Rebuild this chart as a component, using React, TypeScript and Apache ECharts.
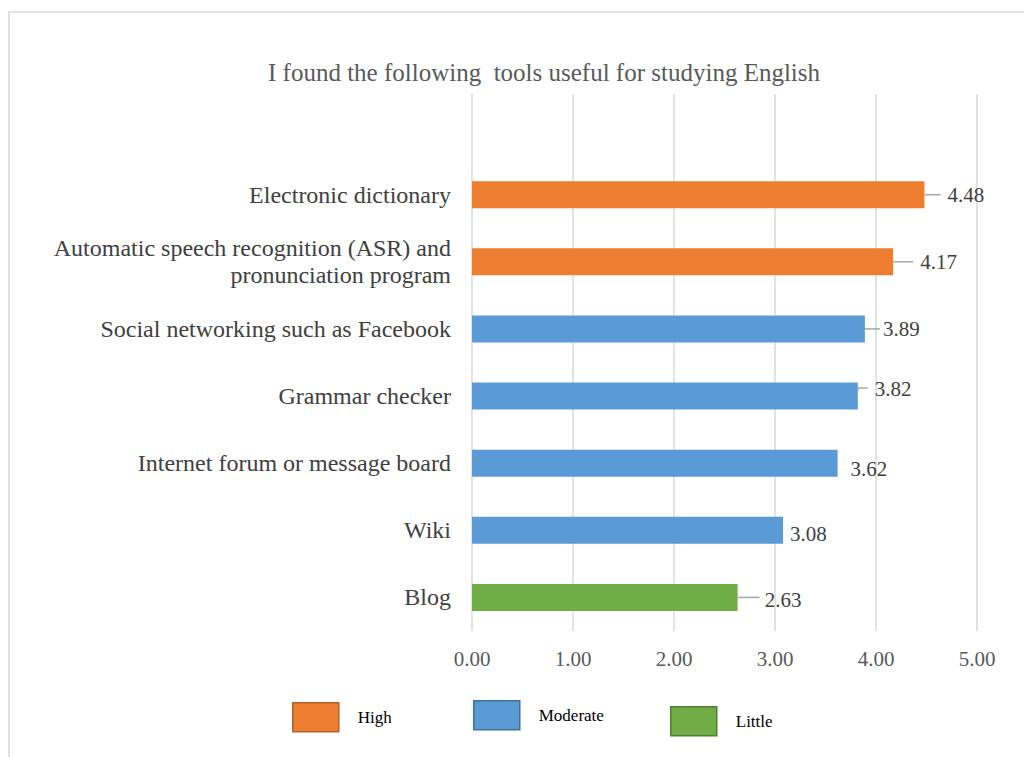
import React, { useEffect, useRef } from "react";
import * as echarts from "echarts";

const categories = [
  "",
  "Electronic dictionary",
  "Automatic speech recognition (ASR) and\npronunciation program",
  "Social networking such as Facebook",
  "Grammar checker",
  "Internet forum or message board",
  "Wiki",
  "Blog",
];
const means: (number | null)[] = [null, 4.48, 4.17, 3.89, 3.82, 3.62, 3.08, 2.63];
const levels = ["", "High", "High", "Moderate", "Moderate", "Moderate", "Moderate", "Little"];
const levelNames = ["High", "Moderate", "Little"];
const xTicks = [0, 1, 2, 3, 4, 5];

// layout-only tweaks (label placement, leader lines)
const labelGap = [0, 23, 27, 18, 17, 13, 7, 27];
const labelDy = [0, 0, 0, 0, -7, 6, 4, 3];
const leaderLen = [0, 16, 20, 15, 10, 0, 0, 22];
const leaderDy = [0, 0, 0, 0, -8, 0, 0, 0];

const colors: Record<string, string> = { High: "#ED7D31", Moderate: "#5B9BD5", Little: "#70AD47" };
const borders: Record<string, string> = { High: "#B5612A", Moderate: "#41719C", Little: "#507E32" };
const legendPos: Record<string, [number, number]> = { High: [292, 702], Moderate: [473, 700], Little: [670, 706] };

const SERIF = "'Liberation Serif', 'Times New Roman', serif";

export default function App() {
  const ref = useRef<HTMLDivElement>(null);
  useEffect(() => {
    const chart = echarts.init(ref.current!, null, { renderer: "svg" });
    const barSeries = levelNames.map((name) => ({
      name,
      type: "bar",
      stack: "all",
      barWidth: 27,
      itemStyle: { color: colors[name] },
      label: {
        show: true,
        position: "right",
        color: "#404040",
        fontFamily: SERIF,
        fontSize: 21,
        formatter: (p: any) => Number(p.value).toFixed(2),
      },
      data: means.map((v, i) =>
        levels[i] === name && v != null
          ? { value: v, label: { distance: labelGap[i], offset: [0, labelDy[i]] } }
          : "-"
      ),
    }));
    const leaderData = means
      .map((v, i) => (v != null ? [v, i, leaderLen[i], leaderDy[i]] : null))
      .filter((d) => d !== null);
    const option: any = {
      animation: false,
      title: {
        text: "I found the following  tools useful for studying English",
        left: 539,
        top: 55,
        textAlign: "center",
        textStyle: { fontFamily: SERIF, fontSize: 25, fontWeight: "normal", color: "#595959" },
      },
      graphic: [
        {
          type: "rect",
          shape: { x: 9, y: 12, width: 1200, height: 900 },
          style: { fill: "none", stroke: "#d9d9d9", lineWidth: 1.5 },
          silent: true,
        },
      ],
      legend: levelNames.map((name) => ({
        data: [{ name, icon: "rect" }],
        left: legendPos[name][0],
        top: legendPos[name][1],
        padding: 0,
        itemWidth: 46,
        itemHeight: 29,
        selectedMode: false,
        itemStyle: { borderColor: borders[name], borderWidth: 1.5 },
        textStyle: { fontFamily: SERIF, fontSize: 17, color: "#000", padding: [0, 0, 0, 14] },
      })),
      grid: { left: 472, right: 47, top: 94, bottom: 126, containLabel: false },
      xAxis: {
        type: "value",
        min: xTicks[0],
        max: xTicks[xTicks.length - 1],
        interval: 1,
        axisLine: { show: false },
        axisTick: { show: false },
        splitLine: { show: true, lineStyle: { color: "#d9d9d9", width: 1.5 } },
        axisLabel: {
          margin: 17,
          color: "#595959",
          fontFamily: SERIF,
          fontSize: 21,
          formatter: (v: number) => v.toFixed(2),
        },
      },
      yAxis: {
        type: "category",
        inverse: true,
        data: categories,
        axisLine: { show: false },
        axisTick: { show: false },
        axisLabel: {
          margin: 21,
          color: "#404040",
          fontFamily: SERIF,
          fontSize: 24,
          lineHeight: 27,
          align: "right",
        },
      },
      series: [
        ...barSeries,
        {
          type: "custom",
          silent: true,
          z: 5,
          encode: { x: 0, y: 1 },
          data: leaderData,
          renderItem: (params: any, api: any) => {
            const v = api.value(0);
            const c = api.value(1);
            const len = api.value(2);
            const dy = api.value(3);
            if (!len) return null;
            const p = api.coord([v, c]);
            const pts = dy
              ? [[p[0], p[1] + dy + 3], [p[0], p[1] + dy], [p[0] + len, p[1] + dy]]
              : [[p[0], p[1]], [p[0] + len, p[1]]];
            return {
              type: "polyline",
              shape: { points: pts },
              style: { stroke: "#a6a6a6", lineWidth: 1.5, fill: null },
            };
          },
        },
      ],
    };
    chart.setOption(option);
    return () => chart.dispose();
  }, []);
  return (
    <div
      ref={ref}
      style={{ position: "fixed", left: 0, top: 0, width: 1024, height: 757, background: "#fff" }}
    />
  );
}
